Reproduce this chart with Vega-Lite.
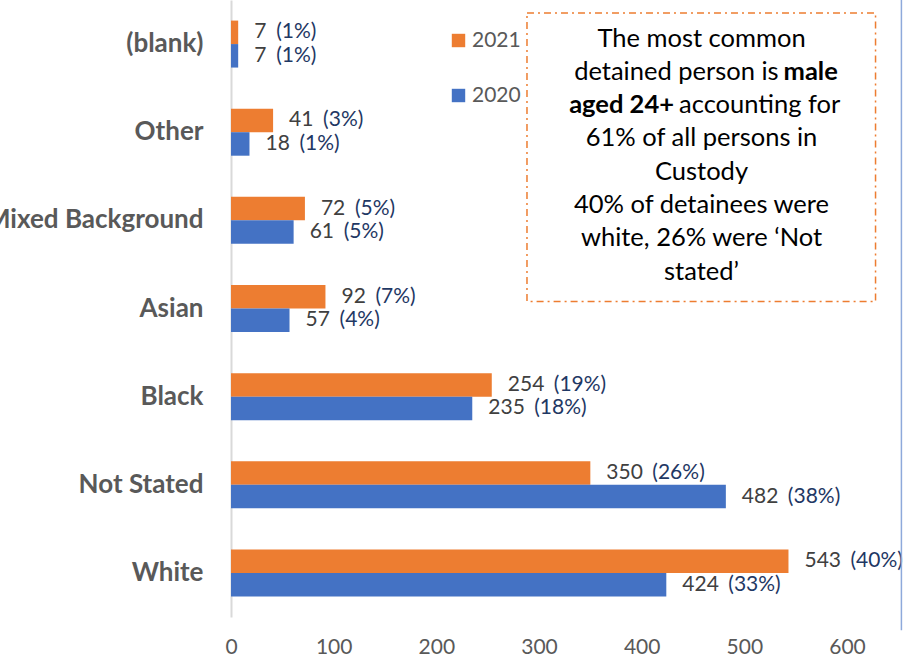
{
  "$schema": "https://vega.github.io/schema/vega-lite/v6.json",
  "width": 616,
  "height": 617,
  "autosize": {"type": "none"},
  "padding": {"left": 231, "top": 0, "right": 57, "bottom": 39},
  "background": "white",
  "config": {"view": {"stroke": null}, "font": "Lato"},
  "datasets": {
    "bars": [
      {"cat": "(blank)", "year": "2021", "value": 7, "pct": "(1%)"},
      {"cat": "(blank)", "year": "2020", "value": 7, "pct": "(1%)"},
      {"cat": "Other", "year": "2021", "value": 41, "pct": "(3%)"},
      {"cat": "Other", "year": "2020", "value": 18, "pct": "(1%)"},
      {"cat": "Mixed Background", "year": "2021", "value": 72, "pct": "(5%)"},
      {"cat": "Mixed Background", "year": "2020", "value": 61, "pct": "(5%)"},
      {"cat": "Asian", "year": "2021", "value": 92, "pct": "(7%)"},
      {"cat": "Asian", "year": "2020", "value": 57, "pct": "(4%)"},
      {"cat": "Black", "year": "2021", "value": 254, "pct": "(19%)"},
      {"cat": "Black", "year": "2020", "value": 235, "pct": "(18%)"},
      {"cat": "Not Stated", "year": "2021", "value": 350, "pct": "(26%)"},
      {"cat": "Not Stated", "year": "2020", "value": 482, "pct": "(38%)"},
      {"cat": "White", "year": "2021", "value": 543, "pct": "(40%)"},
      {"cat": "White", "year": "2020", "value": 424, "pct": "(33%)"}
    ],
    "notes": [
      {"t": "The most common", "x": 458.3, "r": 0.437, "part": "c"},
      {"t": "detained person is", "x": 533.4, "r": 0.815, "part": "rn"},
      {"t": "male", "x": 538.2, "r": 0.815, "part": "lb"},
      {"t": "aged 24+", "x": 431.5, "r": 1.192, "part": "rb"},
      {"t": "accounting for", "x": 436.4, "r": 1.192, "part": "ln"},
      {"t": "61% of all persons in", "x": 458.3, "r": 1.570, "part": "c"},
      {"t": "Custody", "x": 458.3, "r": 1.948, "part": "c"},
      {"t": "40% of detainees were", "x": 458.3, "r": 2.326, "part": "c"},
      {"t": "white, 26% were ‘Not", "x": 458.3, "r": 2.704, "part": "c"},
      {"t": "stated’", "x": 458.3, "r": 3.081, "part": "c"}
    ],
    "frame": [{"x": 288.3, "x2": 627.8, "y": 0.147, "y2": 3.42}],
    "edge": [{"x": 653, "y": 0, "y2": 7.15}]
  },
  "layer": [
    {
      "data": {"name": "bars"},
      "encoding": {
        "y": {
          "field": "cat", "type": "nominal",
          "sort": ["(blank)", "Other", "Mixed Background", "Asian", "Black", "Not Stated", "White"],
          "scale": {"paddingInner": 0.467, "paddingOuter": 0.2335},
          "axis": {
            "title": null, "ticks": false, "domainColor": "#d9d9d9", "domainWidth": 2,
            "labelPadding": 28, "labelFontSize": 26, "labelFontWeight": "bold",
            "labelColor": "#595959", "labelFont": "Lato", "labelLimit": 400
          }
        },
        "yOffset": {"field": "year", "type": "nominal", "sort": ["2021", "2020"]},
        "x": {
          "field": "value", "type": "quantitative",
          "scale": {"domain": [0, 600], "nice": false},
          "axis": {
            "title": null, "grid": false, "ticks": false, "domain": false, "labelFlush": false,
            "values": [0, 100, 200, 300, 400, 500, 600],
            "labelPadding": 19, "labelFontSize": 21, "labelColor": "#595959", "labelFont": "Lato"
          }
        }
      },
      "layer": [
        {
          "mark": {"type": "bar"},
          "encoding": {
            "color": {
              "field": "year", "type": "nominal",
              "scale": {"domain": ["2021", "2020"], "range": ["#ED7D31", "#4472C4"]},
              "legend": {
                "orient": "none", "legendX": 217, "legendY": 30, "direction": "vertical",
                "title": null, "symbolType": "square", "symbolSize": 180, "symbolStrokeWidth": 0,
                "labelFontSize": 21, "labelColor": "#595959", "labelFont": "Lato",
                "rowPadding": 33, "padding": 0, "labelOffset": 3
              }
            }
          }
        },
        {
          "mark": {"type": "text", "align": "left", "baseline": "middle", "dx": 16, "fontSize": 21, "color": "#404040", "font": "Lato"},
          "encoding": {"text": {"field": "value", "type": "quantitative"}}
        },
        {
          "mark": {"type": "text", "align": "left", "baseline": "middle", "dx": {"expr": "26 + 12*length(toString(datum.value))"}, "fontSize": 21, "color": "#1F3864", "font": "Lato"},
          "encoding": {"text": {"field": "pct", "type": "nominal"}}
        }
      ]
    },
    {
      "data": {"name": "frame"},
      "mark": {"type": "rect", "fill": null, "stroke": "#ED7D31", "strokeWidth": 1.5, "strokeDash": [7, 4, 2, 4]},
      "encoding": {
        "x": {"field": "x", "type": "quantitative", "scale": {"domain": [0, 600], "nice": false},
          "axis": {"title": null, "grid": false, "ticks": false, "domain": false, "labelFlush": false, "values": [0, 100, 200, 300, 400, 500, 600], "labelPadding": 19, "labelFontSize": 21, "labelColor": "#595959", "labelFont": "Lato"}},
        "x2": {"field": "x2"},
        "y": {"field": "y", "type": "quantitative", "scale": {"domain": [0, 7], "reverse": true, "nice": false, "zero": false}, "axis": null},
        "y2": {"field": "y2"}
      }
    },
    {
      "data": {"name": "edge"},
      "mark": {"type": "rule", "stroke": "#8EA9DB", "strokeWidth": 1.5},
      "encoding": {
        "x": {"field": "x", "type": "quantitative", "scale": {"domain": [0, 600], "nice": false},
          "axis": {"title": null, "grid": false, "ticks": false, "domain": false, "labelFlush": false, "values": [0, 100, 200, 300, 400, 500, 600], "labelPadding": 19, "labelFontSize": 21, "labelColor": "#595959", "labelFont": "Lato"}},
        "y": {"field": "y", "type": "quantitative", "scale": {"domain": [0, 7], "reverse": true, "nice": false, "zero": false}, "axis": null},
        "y2": {"field": "y2"}
      }
    },
    {
      "data": {"name": "notes"},
      "encoding": {
        "x": {"field": "x", "type": "quantitative", "scale": {"domain": [0, 600], "nice": false},
          "axis": {"title": null, "grid": false, "ticks": false, "domain": false, "labelFlush": false, "values": [0, 100, 200, 300, 400, 500, 600], "labelPadding": 19, "labelFontSize": 21, "labelColor": "#595959", "labelFont": "Lato"}},
        "y": {"field": "r", "type": "quantitative", "scale": {"domain": [0, 7], "reverse": true, "nice": false, "zero": false}, "axis": null},
        "text": {"field": "t", "type": "nominal"}
      },
      "layer": [
        {"transform": [{"filter": "datum.part == 'c'"}], "mark": {"type": "text", "align": "center", "baseline": "middle", "fontSize": 25.5, "color": "#000000", "font": "Lato"}},
        {"transform": [{"filter": "datum.part == 'rn'"}], "mark": {"type": "text", "align": "right", "baseline": "middle", "fontSize": 25.5, "color": "#000000", "font": "Lato"}},
        {"transform": [{"filter": "datum.part == 'ln'"}], "mark": {"type": "text", "align": "left", "baseline": "middle", "fontSize": 25.5, "color": "#000000", "font": "Lato"}},
        {"transform": [{"filter": "datum.part == 'rb'"}], "mark": {"type": "text", "align": "right", "baseline": "middle", "fontSize": 25.5, "fontWeight": "bold", "color": "#000000", "font": "Lato"}},
        {"transform": [{"filter": "datum.part == 'lb'"}], "mark": {"type": "text", "align": "left", "baseline": "middle", "fontSize": 25.5, "fontWeight": "bold", "color": "#000000", "font": "Lato"}}
      ]
    }
  ],
  "resolve": {"scale": {"y": "independent"}}
}
